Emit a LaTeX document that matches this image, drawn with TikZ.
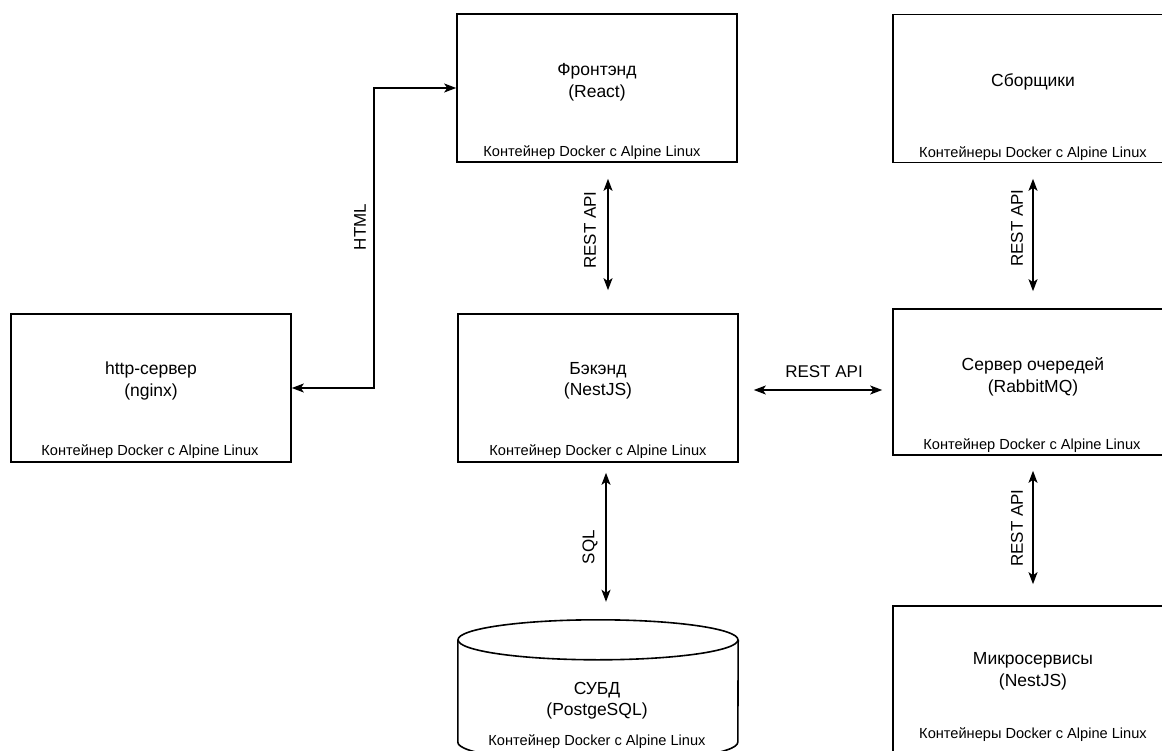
\documentclass[tikz,border=0pt]{standalone}
\usepackage{fontspec}
\setmainfont{Liberation Sans}
\usetikzlibrary{arrows.meta,calc}
\begin{document}
\begin{tikzpicture}[x=1pt,y=-1pt,
  box/.style={draw, line width=1.6pt, minimum width=280pt, minimum height=148pt, inner sep=0pt},
  maintext/.style={font=\fontsize{17.5}{21.5}\selectfont, align=center, inner sep=0pt},
  foot/.style={font=\fontsize{14.6}{17}\selectfont, inner sep=0pt},
  lbl/.style={font=\fontsize{17}{20}\selectfont, inner sep=0pt},
  conn/.style={line width=1.5pt, {Stealth[length=12pt,width=9pt,inset=3pt]}-{Stealth[length=12pt,width=9pt,inset=3pt]}},
]
\useasboundingbox (0,0) rectangle (1162,751);

% boxes
\node[box] (fe) at (597,88) {};
\node[box] (sb) at (1033,88.5) {};
\node[box] (http) at (151,388) {};
\node[box] (be) at (598,388) {};
\node[box, minimum height=146pt] (q) at (1033,382) {};
\node[box, minimum height=154pt] (ms) at (1033,683) {};
\node[minimum width=280pt, minimum height=130pt, inner sep=0pt] (db) at (598,685) {};

% cylinder
\draw[line width=1.6pt] ($(db.north)+(0,20)$) ellipse [x radius=140pt, y radius=20pt];
\draw[line width=1.6pt] ($(db.north west)+(0,20)$) -- ($(db.south west)+(0,-8)$)
  arc[start angle=180, end angle=360, x radius=140pt, y radius=20pt]
  -- ($(db.north east)+(0,20)$);

% texts
\node[maintext] (fet) at (597,82.5) {Фронтэнд\\(React)};
\node[foot] (fef) at (592,153) {Контейнер Docker с Alpine Linux};
\node[maintext] (sbt) at (1033,82) {Сборщики};
\node[foot] (sbf) at (1033,154) {Контейнеры Docker с Alpine Linux};
\node[maintext] (httpt) at (151,381) {http-сервер\\(nginx)};
\node[foot] (httpf) at (150,452) {Контейнер Docker с Alpine Linux};
\node[maintext] (bet) at (598,381) {Бэкэнд\\(NestJS)};
\node[foot] (bef) at (598,452) {Контейнер Docker с Alpine Linux};
\node[maintext] (qt) at (1033,377) {Сервер очередей\\(RabbitMQ)};
\node[foot] (qf) at (1032,446) {Контейнер Docker с Alpine Linux};
\node[maintext] (mst) at (1033,671.5) {Микросервисы\\(NestJS)};
\node[foot] (msf) at (1033,735) {Контейнеры Docker с Alpine Linux};
\node[maintext] (dbt) at (597,700.5) {СУБД\\(PostgeSQL)};
\node[foot] (dbf) at (597,742) {Контейнер Docker с Alpine Linux};

% connectors
\coordinate (hc) at (374,88);
\draw[conn] (http.east) -| (hc) -- (fe.west);
\node[lbl, rotate=90] (htmll) at (360,227) {HTML};

\draw[conn] ([xshift=11pt,yshift=-16pt]fe.south) -- ([xshift=10pt,yshift=23pt]be.north);
\node[lbl, rotate=90] (l1) at (590,230) {REST API};

\draw[conn] ([xshift=15pt,yshift=-2pt]be.east) -- ([xshift=-10pt,yshift=-8pt]q.west);
\node[lbl] (l2) at (824,372) {REST API};

\draw[conn] ([xshift=8pt,yshift=-10pt]be.south) -- ([xshift=8pt,yshift=18pt]db.north);
\node[lbl, rotate=90] (l3) at (590,547) {SQL};

\draw[conn] ([yshift=-15.5pt]sb.south) -- ([yshift=17pt]q.north);
\node[lbl, rotate=90] (l4) at (1017,228) {REST API};

\draw[conn] ([yshift=-15pt]q.south) -- ([yshift=21pt]ms.north);
\node[lbl, rotate=90] (l5) at (1017,528) {REST API};
\end{tikzpicture}
\end{document}
